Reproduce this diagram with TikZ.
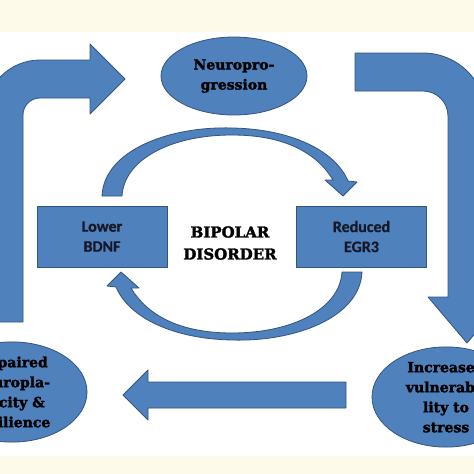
\documentclass[tikz,border=0pt]{standalone}
\usepackage{fontspec}
\usetikzlibrary{shapes.geometric}
\newfontfamily\slabfont{DejaVu Serif}[BoldFeatures={FakeBold=2}]
\newfontfamily\calfont{Carlito}[BoldFont={Carlito Bold}, BoldFeatures={FakeBold=0.6}]
\definecolor{bfill}{RGB}{79,129,189}
\definecolor{bdraw}{RGB}{52,84,128}
\definecolor{cream}{RGB}{254,250,234}
\definecolor{boxtext}{RGB}{22,24,40}
\tikzset{
  blockarrow/.style={fill=bfill, draw=bdraw, line width=0.8pt, line join=round},
  ovalnode/.style={ellipse, fill=bfill, draw=bdraw, line width=0.8pt, inner sep=0pt, align=center,
     font=\slabfont\bfseries\fontsize{14}{20}\selectfont},
  boxnode/.style={rectangle, fill=bfill, draw=bdraw, line width=0.8pt, inner sep=0pt, align=center,
     minimum width=130pt, minimum height=61pt, font=\calfont\bfseries\fontsize{16}{20}\selectfont, text=boxtext},
  titletext/.style={align=center, font=\slabfont\bfseries\fontsize{15}{22}\selectfont}
}
\begin{document}
\begin{tikzpicture}[x=1pt,y=-1pt]
\useasboundingbox (0,0) rectangle (474,474);
\clip (0,0) rectangle (474,474);
\fill[white] (0,0) rectangle (474,474);
\fill[cream] (0,0) rectangle (474,32);
\fill[cream] (0,456) rectangle (474,474);

% left bent arrow
\path[blockarrow] (-15,322) -- (-15,115) arc[start angle=180, end angle=270, radius=55]
  -- (90,60) -- (90,44) -- (125,79) -- (90,114) -- (90,98) -- (40,98)
  arc[start angle=270, end angle=180, radius=17] -- (23,322) -- cycle;

% right bent arrow
\path[blockarrow] (355,53) -- (423,53) arc[start angle=270, end angle=360, radius=63]
  -- (486,297) -- (506,297) -- (467,343) -- (428,297) -- (448,297) -- (448,116)
  arc[start angle=0, end angle=-90, radius=25] -- (355,91) -- cycle;

% bottom arrow pointing left
\path[blockarrow] (346,382) -- (148,382) -- (148,370) -- (123,395) -- (148,420)
  -- (148,408) -- (346,408) -- cycle;

% circular arrows
\path[blockarrow] (102,196) .. controls (104,150) and (170,126) .. (232,128)
  .. controls (290,129) and (335,150) .. (348,181)
  -- (357,182) -- (343,196) -- (325,180) -- (333,180)
  .. controls (315,150) and (280,135) .. (232,135)
  .. controls (170,135) and (124,160) .. (122,196) -- cycle;
\begin{scope}[rotate around={180:(232,234)}]
\path[blockarrow] (102,196) .. controls (104,150) and (170,126) .. (232,128)
  .. controls (290,129) and (335,150) .. (348,181)
  -- (357,182) -- (343,196) -- (325,180) -- (333,180)
  .. controls (315,150) and (280,135) .. (232,135)
  .. controls (170,135) and (124,160) .. (122,196) -- cycle;
\end{scope}

% ellipses
\node[ovalnode, minimum width=146pt, minimum height=78pt] (neuro) at (234,76) {Neuropro-\\gression};
\node[ovalnode, minimum width=150pt, minimum height=90pt] (impaired) at (12,392) {Impaired\\neuropla-\\sticity \&\\resilience};
\node[ovalnode, minimum width=148pt, minimum height=90pt] (vuln) at (446,397) {Increased\\vulnerabi-\\lity to\\stress};

% boxes
\node[boxnode] (bdnf) at (102,236.5) {Lower\\BDNF};
\node[boxnode] (egr) at (361.5,236.5) {Reduced\\EGR3};

% centre title
\node[titletext] (bipolar) at (230,243) {BIPOLAR\\DISORDER};
\end{tikzpicture}
\end{document}
